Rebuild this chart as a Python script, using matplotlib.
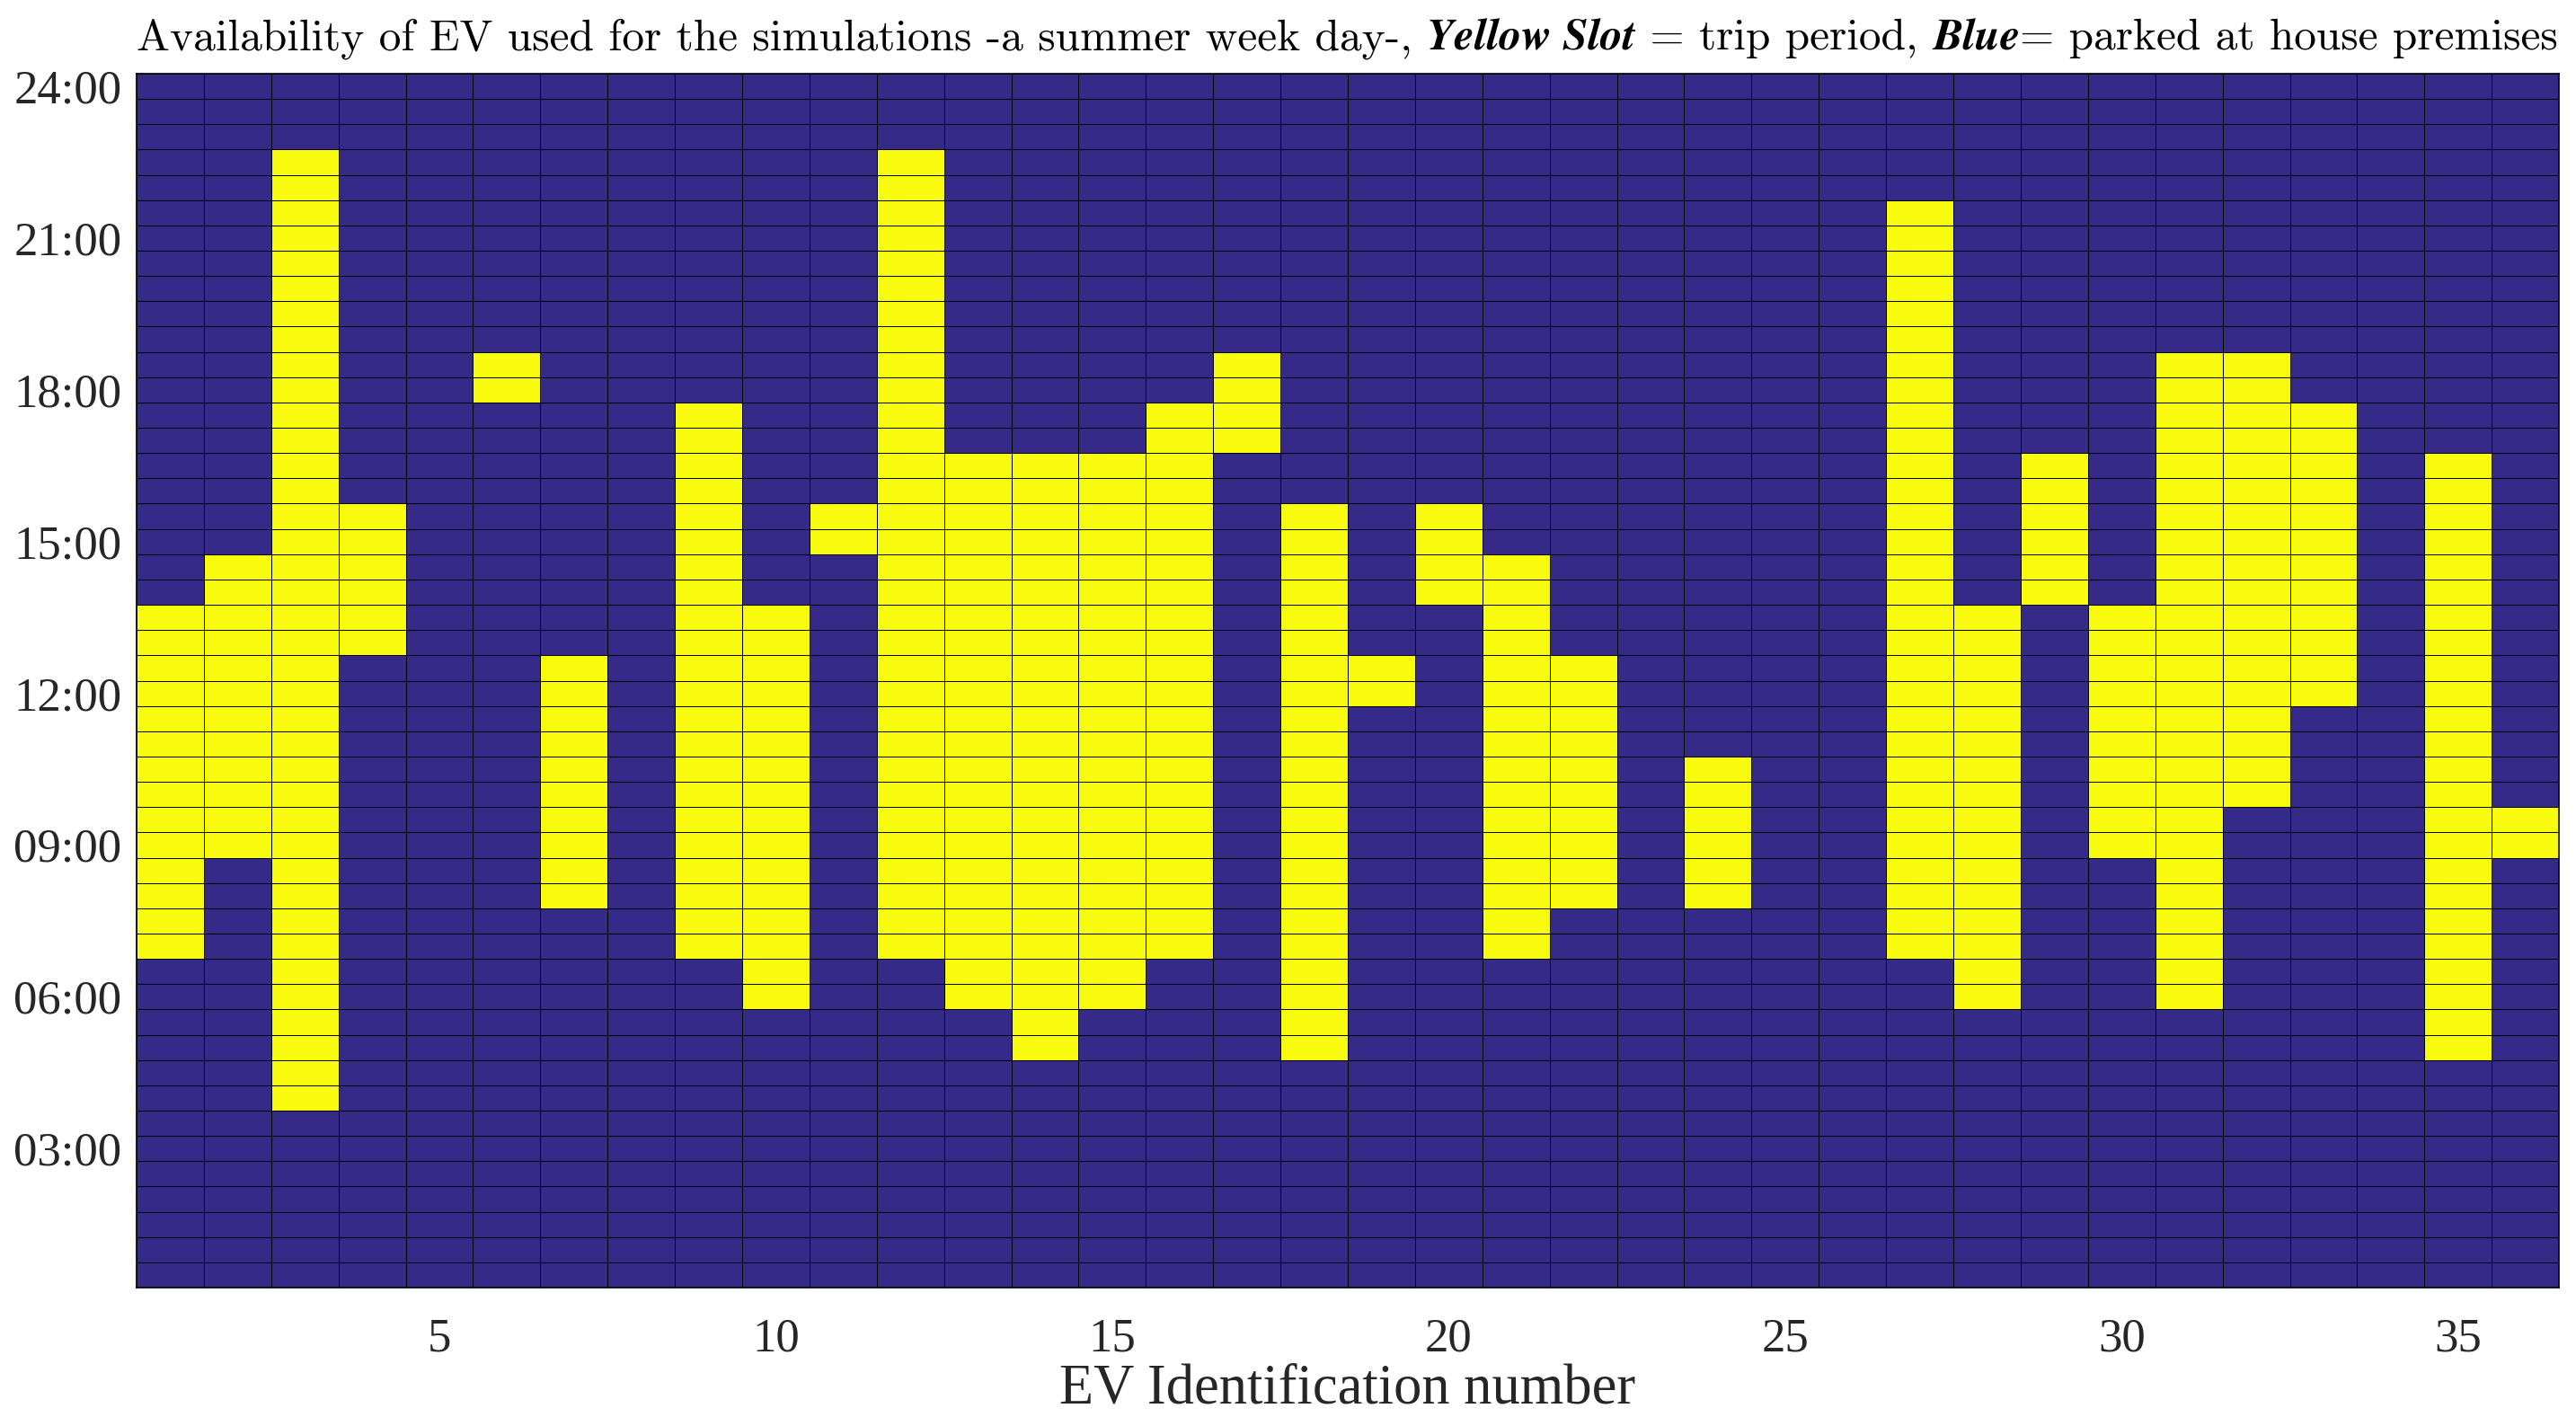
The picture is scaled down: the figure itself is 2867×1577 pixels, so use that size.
import numpy as np
import matplotlib
matplotlib.use("Agg")
import matplotlib.pyplot as plt
from matplotlib.colors import ListedColormap

# EV ids and trip window (first and last half-hour slot on the road), None = no trip
ev_ids = list(range(1, 37))
trip_start = [7.0, 9.0, 4.0, 13.0, None, 18.0, 8.0, None, 7.0, 6.0,
              15.0, 7.0, 6.0, 5.0, 6.0, 7.0, 17.0, 5.0, 12.0, 14.0,
              7.0, 8.0, None, 8.0, None, None, 7.0, 6.0, 14.0, 9.0,
              6.0, 10.0, 12.0, None, 5.0, 9.0]
trip_end = [13.5, 14.5, 22.5, 15.5, None, 18.5, 12.5, None, 17.5, 13.5,
            15.5, 22.5, 16.5, 16.5, 16.5, 17.5, 18.5, 15.5, 12.5, 15.5,
            14.5, 12.5, None, 10.5, None, None, 21.5, 13.5, 16.5, 13.5,
            18.5, 18.5, 17.5, None, 16.5, 9.5]
slots = np.arange(0.5, 24.01, 0.5)
hour_ticks = [3, 6, 9, 12, 15, 18, 21, 24]
hour_labels = ["03:00", "06:00", "09:00", "12:00", "15:00", "18:00", "21:00", "24:00"]

avail = np.zeros((len(slots), len(ev_ids)))
for j in range(len(ev_ids)):
    if trip_start[j] is None:
        continue
    avail[:, j] = (slots >= trip_start[j]) & (slots <= trip_end[j])

blue = "#352a87"
yellow = "#f9fb0e"

fig = plt.figure(figsize=(28.67, 15.77), dpi=100)
ax = fig.add_axes([0.053, 0.0913, 0.9404, 0.8567])

xe = np.arange(0.5, len(ev_ids) + 1, 1)
ye = np.append(slots - 0.25, slots[-1] + 0.25)
ax.pcolormesh(xe, ye, avail, cmap=ListedColormap([blue, yellow]),
              vmin=0, vmax=1, edgecolors="k", linewidth=0.7)

ax.set_xlim(0.5, 36.5)
ax.set_ylim(0.25, 24.25)
ax.set_xticks([5, 10, 15, 20, 25, 30, 35])
ax.set_yticks(hour_ticks)
ax.set_yticklabels(hour_labels)
tick_font = "Liberation Serif"
for lab in ax.get_xticklabels() + ax.get_yticklabels():
    lab.set_fontfamily(tick_font)
    lab.set_fontsize(38)
    lab.set_color("#262626")
ax.tick_params(axis="x", length=0, pad=24)
ax.tick_params(axis="y", length=0, pad=12)
for s in ax.spines.values():
    s.set_linewidth(1.2)
ax.set_xlabel("EV Identification number", fontfamily=tick_font,
              fontsize=45, color="#262626", labelpad=2)

# title made of regular and bold-italic pieces
pieces = [
    ("Availability of EV used for the simulations -a summer week day-, ", False),
    ("Yellow Slot", True),
    (" = trip period, ", False),
    ("Blue", True),
    ("= parked at house premises", False),
]
renderer = fig.canvas.get_renderer()
x = 0.053
y = 1 - 55 / 1577
for txt, bi in pieces:
    if bi:
        t = fig.text(x, y, txt, fontfamily="STIXGeneral", fontweight="bold",
                     fontstyle="italic", fontsize=36, va="baseline", ha="left")
    else:
        t = fig.text(x, y, txt, fontfamily="cmr10", fontsize=35.5,
                     va="baseline", ha="left")
    bb = t.get_window_extent(renderer)
    x = fig.transFigure.inverted().transform((bb.x1, bb.y0))[0]

fig.savefig("out.png", dpi=100)
